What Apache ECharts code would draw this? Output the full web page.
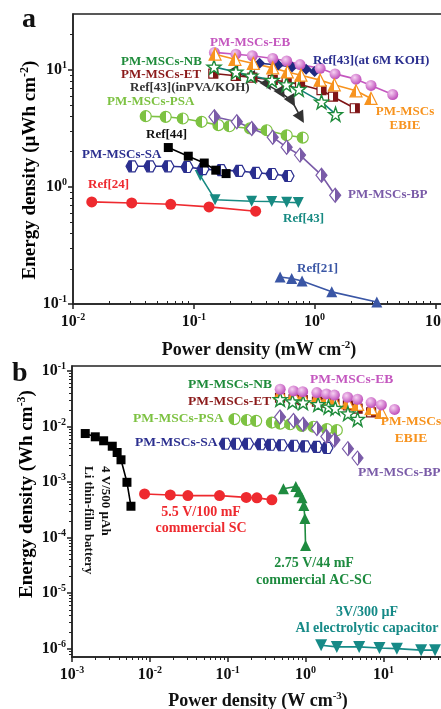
<!DOCTYPE html>
<html><head><meta charset="utf-8">
<script src="https://cdn.jsdelivr.net/npm/echarts@6/dist/echarts.min.js"></script>
<style>html,body{margin:0;padding:0;background:#fff;}#c{width:441px;height:709px;}</style>
</head><body><div id="c"></div>
<script>
// ---------- Panel a data (Power density mW cm^-2, Energy density µWh cm^-2) ----------
const EB_a_x = [0.148,0.223,0.305,0.45,0.587,0.757,1.11,1.476,2.2,2.93,4.43];
const EB_a_y = [14.1,13.6,13.2,12.5,11.9,11.1,10.3,9.24,8.33,7.36,6.16];
const EBIE_a_x = [0.15,0.219,0.311,0.45,0.594,0.771,1.11,1.455,2.2,2.93];
const EBIE_a_y = [13.6,12.3,11.35,10.4,9.6,9.0,8.17,7.45,6.62,5.7];
const ET_a_x = [0.145,0.223,0.305,0.45,0.587,0.757,1.14,1.42,2.15];
const ET_a_y = [9.3,8.9,8.6,8.2,7.9,7.5,6.7,5.9,4.7];
const NB_a_x = [0.147,0.223,0.297,0.444,0.584,0.741,1.14,1.49];
const NB_a_y = [10.6,9.6,8.9,8.17,7.5,6.84,5.33,4.18];
const KOH_a_x = [0.35,0.5,0.65,0.85,1.0];
const KOH_a_y = [11.4,11.0,10.6,10.1,9.7];
const PVA_a_x = [0.223,0.308,0.41,0.534,0.65,0.77];
const PVA_a_y = [9.4,8.49,7.4,6.33,5.4,3.9];
const PSA_a_x = [0.04,0.0585,0.081,0.116,0.16,0.197,0.292,0.401,0.587,0.797];
const PSA_a_y = [4.02,3.97,3.84,3.6,3.37,3.3,3.16,3.05,2.76,2.64];
const BP_a_x = [0.148,0.227,0.302,0.45,0.587,0.757,1.14,1.48];
const BP_a_y = [3.97,3.6,3.16,2.66,2.18,1.87,1.26,0.85];
const R44_a_x = [0.0615,0.09,0.122,0.152,0.185];
const R44_a_y = [2.17,1.83,1.6,1.39,1.30];
const SA_a_x = [0.0308,0.0433,0.0611,0.0879,0.119,0.168,0.237,0.327,0.444,0.602];
const SA_a_y = [1.5,1.5,1.5,1.48,1.42,1.39,1.37,1.32,1.29,1.24];
const R43_a_x = [0.113,0.15,0.301,0.441,0.587,0.733];
const R43_a_y = [1.25,0.778,0.755,0.75,0.74,0.735];
const R24_a_x = [0.0143,0.0306,0.0644,0.1336,0.325];
const R24_a_y = [0.745,0.73,0.711,0.675,0.62];
const R21_a_x = [0.518,0.646,0.787,1.386,3.27];
const R21_a_y = [0.17,0.165,0.157,0.127,0.104];

// ---------- Panel b data (Power density W cm^-3, Energy density Wh cm^-3) ----------
const LI_x = [0.00148,0.00199,0.00255,0.00329,0.0038,0.00426,0.00508,0.00572];
const LI_y = [0.00748,0.00653,0.00554,0.00442,0.00341,0.00252,0.00099,0.000367];
const SC_x = [0.00855,0.0183,0.0308,0.0785,0.173,0.237,0.369];
const SC_y = [0.000611,0.000586,0.00057,0.00057,0.00053,0.00052,0.000478];
const AC_x = [0.52,0.75,0.82,0.9,0.95,0.98,1.0];
const AC_y = [7.6e-4,8.3e-4,6.7e-4,5.2e-4,3.8e-4,2.2e-4,7.2e-5];
const AL_x = [1.585,2.52,4.88,8.89,14.9,30.5,46.1];
const AL_y = [1.156e-6,1.077e-6,1.077e-6,1.03e-6,1.0e-6,0.94e-6,0.94e-6];
const EB_b_x = [0.472,0.70,0.918,1.397,1.855,2.35,3.47,4.66,6.95,9.42,13.9];
const EB_b_y = [0.0469,0.0438,0.0425,0.0408,0.0387,0.0368,0.0337,0.031,0.027,0.0245,0.0203];
const EBIE_b_x = [0.472,0.70,0.918,1.397,1.855,2.35,3.47,4.66,6.95,9.42];
const EBIE_b_y = [0.040,0.037,0.035,0.033,0.031,0.029,0.027,0.025,0.021,0.018];
const ET_b_x = [0.47,0.70,0.92,1.40,1.86,2.35,3.5,4.66,6.95];
const ET_b_y = [0.033,0.031,0.030,0.028,0.027,0.026,0.024,0.021,0.018];
const NB_b_x = [0.472,0.68,0.93,1.45,1.97,2.41,3.5,4.66];
const NB_b_y = [0.031,0.0281,0.027,0.0252,0.0226,0.0214,0.0171,0.0136];
const PSA_b_x = [0.122,0.176,0.232,0.369,0.472,0.634,0.896,1.26,1.876,2.52];
const PSA_b_y = [0.0136,0.0131,0.01265,0.0118,0.0113,0.011,0.0103,0.0099,0.009,0.0086];
const SA_b_x = [0.093,0.128,0.18,0.265,0.355,0.49,0.71,0.98,1.39,1.88];
const SA_b_y = [0.0049,0.0049,0.0049,0.0048,0.0047,0.0046,0.0045,0.0044,0.0043,0.0041];
const BP_b_x = [0.47,0.70,0.93,1.40,1.85,2.35,3.5,4.65];
const BP_b_y = [0.0148,0.0128,0.011,0.0092,0.0066,0.0057,0.0040,0.0027];

// ---------- Axis tick values ----------
const A_X_MAJOR = [0.01,0.1,1,10];
const A_Y_MAJOR = [0.1,1,10];
const B_X_MAJOR = [0.001,0.01,0.1,1,10];
const B_Y_MAJOR = [1e-6,1e-5,1e-4,1e-3,1e-2,1e-1];

function minorTicks(lo, hi){
  const out=[];
  const d0=Math.floor(Math.log10(lo))-1, d1=Math.ceil(Math.log10(hi));
  for(let d=d0; d<=d1; d++){ for(let k=2;k<=9;k++){ const v=k*Math.pow(10,d); if(v>lo*1.0001 && v<hi*0.9999) out.push(+v.toPrecision(3)); } }
  return out;
}

const FONT='"Liberation Serif","Times New Roman",serif';
const A_XMIN=0.01, A_XMAX=12, A_YMIN=0.1, A_YMAX=30;
const B_XMIN=0.001, B_XMAX=60, B_YMIN=Math.pow(10,-6.15), B_YMAX=Math.pow(10,-0.91);

const rich = {
  b:{fontFamily:FONT,fontWeight:'bold',fontSize:16,color:'#111'},
  s:{fontFamily:FONT,fontWeight:'bold',fontSize:10,color:'#111',padding:[0,0,9,0]}
};
function powFmt(v){ const e=Math.round(Math.log10(v)); return '{b|10}{s|'+e+'}'; }

function majorAxis(gi, min, max, vals, isX){
  return {type:'log', gridIndex:gi, min:min, max:max, logBase:10, position:isX?'bottom':'left',
    axisLine:{show:true,lineStyle:{color:'#222',width:1.5}},
    axisTick:{show:true,customValues:vals,length:5,inside:false,lineStyle:{color:'#222',width:1.5}},
    axisLabel:{show:true,customValues:vals,formatter:powFmt,rich:rich,margin:isX?8:6,hideOverlap:false},
    splitLine:{show:false}, minorTick:{show:false}};
}
function minorAxis(gi, min, max, inside, isX){
  return {type:'log', gridIndex:gi, min:min, max:max, position:isX?'bottom':'left',
    axisLine:{show:false},
    axisTick:{show:true,customValues:minorTicks(min,max),length:3,inside:inside,lineStyle:{color:'#222',width:1}},
    axisLabel:{show:false}, splitLine:{show:false}};
}

function zip(xs,ys){ return xs.map((x,i)=>[x,ys[i]]); }
function half(c, dir){
  const h = dir==='v' ? {x:0,y:0,x2:0,y2:1} : {x:0,y:0,x2:1,y2:0};
  const first = (dir==='r') ? '#fff' : c, second = (dir==='r') ? c : '#fff';
  return Object.assign({type:'linear', colorStops:[{offset:0,color:first},{offset:0.5,color:first},{offset:0.5,color:second},{offset:1,color:second}]}, h);
}
const EBgrad = {type:'radial',x:0.38,y:0.35,r:0.65,colorStops:[{offset:0,color:'#F6D2F2'},{offset:1,color:'#BF4FBB'}]};
const STAR='path://M0,-10 L2.35,-3.24 L9.51,-3.09 L3.8,1.24 L5.88,8.09 L0,4 L-5.88,8.09 L-3.8,1.24 L-9.51,-3.09 L-2.35,-3.24 Z';
const HEX='path://M-5,-8.66 L5,-8.66 L10,0 L5,8.66 L-5,8.66 L-10,0 Z';

const C = {EB:'#C457BF',EBIE:'#F7931E',ET:'#7F1416',NB:'#1E8B3A',NBline:'#138078',KOH:'#1F2A80',PVA:'#333333',
  PSA:'#7DC242',BP:'#7A5BA8',R44:'#000000',SA:'#2B2F8F',R43:'#178A82',R24:'#EE2A2F',R21:'#3A56A5',
  LI:'#000000',SC:'#EE2A2F',AC:'#1E8B3F',AL:'#168A87'};

function line(gi, xs, ys, o){
  return {type:'line', xAxisIndex:gi*2, yAxisIndex:gi*2, data:zip(xs,ys), symbol:o.symbol||'circle',
    symbolSize:o.size||10, symbolRotate:o.rot||0, showSymbol:true, silent:true, animation:false,
    lineStyle:{color:o.lc||o.c,width:1.6}, itemStyle:{color:o.fill||o.c,borderColor:o.bc||o.c,borderWidth:o.bw||0}, z:o.z||2};
}
function scat(gi, xs, ys, o){
  return {type:'scatter', xAxisIndex:gi*2, yAxisIndex:gi*2, data:zip(xs,ys), symbol:o.symbol||'circle',
    symbolSize:o.size||10, symbolRotate:o.rot||0, silent:true, animation:false,
    itemStyle:{color:o.fill||o.c,borderColor:o.bc||o.c,borderWidth:o.bw||0,opacity:1}, z:o.z||2};
}

const series = [
  // panel a
  line(0,R21_a_x,R21_a_y,{c:C.R21,symbol:'triangle',size:11}),
  line(0,R24_a_x,R24_a_y,{c:C.R24,symbol:'circle',size:11}),
  line(0,R43_a_x,R43_a_y,{c:C.R43,symbol:'triangle',rot:180,size:11}),
  line(0,SA_a_x,SA_a_y,{c:C.SA,symbol:HEX,size:[12,11],fill:half(C.SA,'h'),bw:1.2}),
  line(0,R44_a_x,R44_a_y,{c:C.R44,symbol:'rect',size:9}),
  line(0,PSA_a_x,PSA_a_y,{c:C.PSA,symbol:'circle',size:11,fill:half(C.PSA,'h'),bw:1.2}),
  line(0,BP_a_x,BP_a_y,{c:C.BP,symbol:'diamond',size:[11,14],fill:half(C.BP,'r'),bw:1.2}),
  line(0,PVA_a_x,PVA_a_y,{c:C.PVA,symbol:'triangle',rot:-150,size:12}),
  line(0,KOH_a_x,KOH_a_y,{c:C.KOH,symbol:'diamond',size:11}),
  line(0,ET_a_x,ET_a_y,{c:C.ET,symbol:'rect',size:9,fill:half(C.ET,'r'),bw:1.2}),
  line(0,NB_a_x,NB_a_y,{c:C.NB,lc:C.NBline,symbol:STAR,size:14,fill:'#ffffff',bw:1.4}),
  line(0,EB_a_x,EB_a_y,{c:C.EB,symbol:'circle',size:11,fill:EBgrad}),
  line(0,EBIE_a_x,EBIE_a_y,{c:C.EBIE,symbol:'triangle',size:12,fill:half(C.EBIE,'h'),bw:1.2}),
  // panel b
  line(1,LI_x,LI_y,{c:C.LI,symbol:'rect',size:9}),
  line(1,SC_x,SC_y,{c:C.SC,symbol:'circle',size:11}),
  line(1,AC_x,AC_y,{c:C.AC,symbol:'triangle',size:11}),
  line(1,AL_x,AL_y,{c:C.AL,symbol:'triangle',rot:180,size:12}),
  scat(1,SA_b_x,SA_b_y,{c:C.SA,symbol:HEX,size:[12,11],fill:half(C.SA,'h'),bw:1.2}),
  scat(1,PSA_b_x,PSA_b_y,{c:C.PSA,symbol:'circle',size:11,fill:half(C.PSA,'h'),bw:1.2}),
  scat(1,BP_b_x,BP_b_y,{c:C.BP,symbol:'diamond',size:[11,14],fill:half(C.BP,'r'),bw:1.2}),
  scat(1,ET_b_x,ET_b_y,{c:C.ET,symbol:'rect',size:9,fill:half(C.ET,'r'),bw:1.2}),
  scat(1,EBIE_b_x,EBIE_b_y,{c:C.EBIE,symbol:'triangle',size:12,fill:half(C.EBIE,'h'),bw:1.2}),
  scat(1,NB_b_x,NB_b_y,{c:C.NB,symbol:STAR,size:14,fill:'#ffffff',bw:1.4}),
  scat(1,EB_b_x,EB_b_y,{c:C.EB,symbol:'circle',size:11,fill:EBgrad})
];

function T(text, x, y, color, align, size){
  return {type:'text', x:x, y:y, silent:true, z:10,
    style:{text:text, fill:color, font:'bold '+(size||14)+'px '+FONT, textAlign:align||'left', textVerticalAlign:'middle'}};
}
const nameRich = {
  n:{fontFamily:FONT,fontWeight:'bold',fontSize:18,color:'#111'},
  s:{fontFamily:FONT,fontWeight:'bold',fontSize:11,color:'#111',padding:[0,0,10,0]}
};
const yRich = {
  n:{fontFamily:FONT,fontWeight:'bold',fontSize:19,color:'#111'},
  s:{fontFamily:FONT,fontWeight:'bold',fontSize:12,color:'#111',padding:[0,0,10,0]}
};
function YT(text, x, y){
  return {type:'text', x:x, y:y, rotation:Math.PI/2, silent:true, z:10,
    style:{text:text, rich:yRich, textAlign:'center', textVerticalAlign:'middle'}};
}
const A=13, B=13.5;
const graphics = [
  T('a', 22, 20, '#111', 'left', 28),
  T('b', 12, 374, '#111', 'left', 28),
  YT('{n|Energy density (µWh cm}{s|-2}{n|)}', 30, 170),
  YT('{n|Energy density (Wh cm}{s|-3}{n|)}', 27, 494),
  // panel a labels
  T('PM-MSCs-EB', 210, 43, C.EB, 'left', A),
  T('Ref[43](at 6M KOH)', 313, 61, C.SA, 'left', A),
  T('PM-MSCs-NB', 121, 62, C.NB, 'left', A),
  T('PM-MSCs-ET', 121, 75, '#8B1A1A', 'left', A),
  T('Ref[43](inPVA/KOH)', 130, 88, '#333', 'left', A),
  T('PM-MSCs-PSA', 107, 102, C.PSA, 'left', A),
  T('PM-MSCs', 405, 112, C.EBIE, 'center', A),
  T('EBIE', 405, 126, C.EBIE, 'center', A),
  T('Ref[44]', 146, 135, '#111', 'left', A),
  T('PM-MSCs-SA', 82, 155, C.SA, 'left', A),
  T('Ref[24]', 88, 185, C.R24, 'left', A),
  T('PM-MSCs-BP', 348, 195, C.BP, 'left', A),
  T('Ref[43]', 283, 219, C.R43, 'left', A),
  T('Ref[21]', 297, 269, C.R21, 'left', A),
  // panel b labels
  T('PM-MSCs-EB', 310, 380, C.EB, 'left', B),
  T('PM-MSCs-NB', 188, 385, C.NB, 'left', B),
  T('PM-MSCs-ET', 188, 402, '#8B1A1A', 'left', B),
  T('PM-MSCs-PSA', 133, 419, C.PSA, 'left', B),
  T('PM-MSCs', 411, 422, C.EBIE, 'center', B),
  T('EBIE', 411, 439, C.EBIE, 'center', B),
  T('PM-MSCs-SA', 135, 443, C.SA, 'left', B),
  T('PM-MSCs-BP', 358, 473, C.BP, 'left', B),
  T('5.5 V/100 mF', 201, 512, C.SC, 'center', 14),
  T('commercial SC', 201, 528, C.SC, 'center', 14),
  T('2.75 V/44 mF', 314, 563, C.AC, 'center', 14),
  T('commercial AC-SC', 314, 580, C.AC, 'center', 14),
  T('3V/300 µF', 367, 612, C.AL, 'center', 14),
  T('Al electrolytic capacitor', 367, 628, C.AL, 'center', 14),
  {type:'text', x:105, y:466, rotation:-Math.PI/2, silent:true, z:10,
    style:{text:'4 V/500 µAh', fill:'#111', font:'bold 13px '+FONT, textAlign:'left', textVerticalAlign:'middle'}},
  {type:'text', x:88, y:466, rotation:-Math.PI/2, silent:true, z:10,
    style:{text:'Li thin-film battery', fill:'#111', font:'bold 13px '+FONT, textAlign:'left', textVerticalAlign:'middle'}}
];

const xa0 = majorAxis(0,A_XMIN,A_XMAX,A_X_MAJOR,true);
Object.assign(xa0,{name:'{n|Power density (mW cm}{s|-2}{n|)}',nameLocation:'middle',nameGap:36,nameTextStyle:{rich:nameRich}});
const xb0 = majorAxis(1,B_XMIN,B_XMAX,B_X_MAJOR,true);
Object.assign(xb0,{name:'{n|Power density (W cm}{s|-3}{n|)}',nameLocation:'middle',nameGap:34,nameTextStyle:{rich:nameRich}});
const ya0 = majorAxis(0,A_YMIN,A_YMAX,A_Y_MAJOR,false);
const yb0 = majorAxis(1,B_YMIN,B_YMAX,B_Y_MAJOR,false);

const option = {
  backgroundColor:'#ffffff',
  animation:false,
  grid:[
    {left:73, top:14, width:372, height:290, show:true, borderColor:'#222', borderWidth:1.5, containLabel:false, outerBoundsMode:'none'},
    {left:72, top:366, width:372, height:291, show:true, borderColor:'#222', borderWidth:1.5, containLabel:false, outerBoundsMode:'none'}
  ],
  xAxis:[ xa0, minorAxis(0,A_XMIN,A_XMAX,true,true), xb0, minorAxis(1,B_XMIN,B_XMAX,false,true) ],
  yAxis:[ ya0, minorAxis(0,A_YMIN,A_YMAX,false,false), yb0, minorAxis(1,B_YMIN,B_YMAX,false,false) ],
  series:series,
  graphic:graphics
};
const chart = echarts.init(document.getElementById('c'), null, {renderer:'canvas'});
chart.setOption(option);
</script></body></html>
